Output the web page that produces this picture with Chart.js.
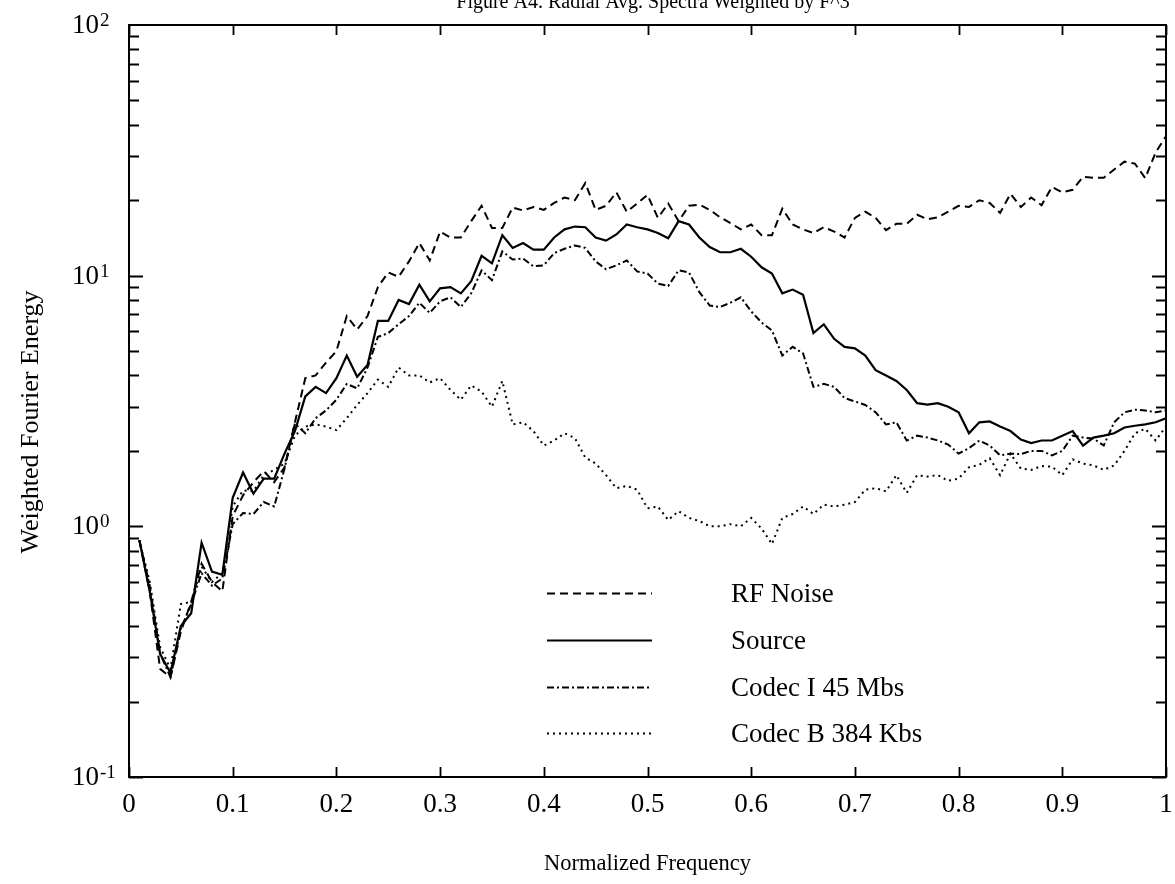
<!DOCTYPE html>
<html>
<head>
<meta charset="utf-8">
<script src="https://cdn.jsdelivr.net/npm/chart.js@4.4.1/dist/chart.umd.min.js"></script>
<style>
html,body{margin:0;padding:0;background:#fff;}
#c{display:block;}
</style>
</head>
<body>
<canvas id="c" width="1175" height="884"></canvas>
<script>
// ---- data ----
const titleText = "Figure A4. Radial Avg. Spectra Weighted by F^3";
const xTitle = "Normalized Frequency";
const yTitle = "Weighted Fourier Energy";
const seriesNames = ["RF Noise", "Source", "Codec I 45 Mbs", "Codec B 384 Kbs"];
const xTickValues = [0,0.1,0.2,0.3,0.4,0.5,0.6,0.7,0.8,0.9,1];
const xTickLabels = ["0","0.1","0.2","0.3","0.4","0.5","0.6","0.7","0.8","0.9","1"];
const yDecades = [-1,0,1,2];

const freq = [0.01,0.02,0.03,0.04,0.05,0.06,0.07,0.08,0.09,0.10,
0.11,0.12,0.13,0.14,0.15,0.16,0.17,0.18,0.19,0.20,
0.21,0.22,0.23,0.24,0.25,0.26,0.27,0.28,0.29,0.30,
0.31,0.32,0.33,0.34,0.35,0.36,0.37,0.38,0.39,0.40,
0.41,0.42,0.43,0.44,0.45,0.46,0.47,0.48,0.49,0.50,
0.51,0.52,0.53,0.54,0.55,0.56,0.57,0.58,0.59,0.60,
0.61,0.62,0.63,0.64,0.65,0.66,0.67,0.68,0.69,0.70,
0.71,0.72,0.73,0.74,0.75,0.76,0.77,0.78,0.79,0.80,
0.81,0.82,0.83,0.84,0.85,0.86,0.87,0.88,0.89,0.90,
0.91,0.92,0.93,0.94,0.95,0.96,0.97,0.98,0.99,1.00];

const rfNoise = [0.88,0.55,0.27,0.25,0.38,0.5,0.71,0.6,0.55,1.1,
1.33,1.5,1.66,1.5,1.72,2.6,3.9,4.0,4.5,5.0,
6.9,6.1,6.9,9.0,10.3,9.9,11.4,13.5,11.5,15.0,
14.2,14.2,16.5,19.0,15.5,15.5,18.7,18.2,18.8,18.3,
19.5,20.5,20.0,23.4,18.3,19.0,21.5,18.0,19.4,21.0,
17.0,19.4,16.5,19.0,19.2,18.3,17.1,16.2,15.3,16.0,
14.5,14.5,18.5,16.0,15.3,14.8,15.6,15.0,14.2,17.0,
18.0,17.0,15.2,16.1,16.1,17.5,16.8,17.1,18.0,19.0,
18.8,20.0,19.5,17.8,21.2,18.8,20.5,19.1,22.6,21.5,
22.0,24.8,24.6,24.6,26.5,28.5,28.0,24.5,31.0,36.0];

const source = [0.88,0.55,0.31,0.26,0.40,0.45,0.86,0.66,0.64,1.3,
1.64,1.35,1.55,1.55,1.95,2.4,3.3,3.6,3.4,3.9,
4.8,3.95,4.4,6.6,6.6,8.0,7.7,9.2,7.9,8.9,
9.0,8.5,9.5,12.0,11.2,14.5,12.9,13.5,12.7,12.7,
14.2,15.3,15.7,15.6,14.2,13.8,14.6,16.0,15.6,15.3,
14.8,14.1,16.5,16.0,14.2,13.0,12.4,12.4,12.8,11.9,
10.8,10.2,8.5,8.8,8.4,5.9,6.4,5.6,5.2,5.13,
4.8,4.2,4.0,3.8,3.5,3.1,3.06,3.1,3.0,2.85,
2.35,2.6,2.62,2.5,2.4,2.22,2.15,2.2,2.2,2.3,
2.4,2.1,2.26,2.3,2.35,2.48,2.52,2.55,2.6,2.7];

const codecI = [0.88,0.58,0.31,0.25,0.39,0.49,0.65,0.58,0.62,1.02,
1.13,1.12,1.25,1.2,1.7,2.57,2.35,2.7,2.9,3.2,
3.7,3.55,4.3,5.7,5.9,6.4,6.9,7.8,7.1,7.9,
8.2,7.5,8.5,10.5,9.6,12.5,11.6,11.7,10.9,11.0,
12.3,12.8,13.2,12.9,11.4,10.6,11.0,11.5,10.4,10.2,
9.3,9.1,10.5,10.3,8.6,7.6,7.5,7.8,8.2,7.2,
6.5,6.05,4.8,5.2,4.9,3.6,3.7,3.6,3.25,3.15,
3.05,2.85,2.55,2.6,2.2,2.3,2.26,2.2,2.12,1.95,
2.05,2.2,2.1,1.92,1.95,1.94,2.0,2.0,1.92,2.0,
2.3,2.26,2.24,2.1,2.6,2.85,2.92,2.9,2.85,2.9];

const codecB = [0.88,0.6,0.33,0.27,0.49,0.5,0.69,0.6,0.65,1.2,
1.39,1.38,1.6,1.68,1.78,2.3,2.5,2.55,2.5,2.42,
2.7,3.05,3.4,3.85,3.6,4.3,4.0,4.0,3.75,3.9,
3.5,3.2,3.65,3.45,3.0,3.8,2.55,2.6,2.4,2.1,
2.2,2.35,2.25,1.88,1.78,1.6,1.42,1.45,1.4,1.18,
1.2,1.06,1.15,1.08,1.05,1.0,1.0,1.02,1.0,1.08,
0.98,0.85,1.08,1.12,1.2,1.12,1.22,1.2,1.22,1.25,
1.4,1.42,1.38,1.6,1.36,1.6,1.58,1.6,1.52,1.55,
1.72,1.76,1.87,1.6,1.95,1.7,1.68,1.74,1.73,1.6,
1.85,1.78,1.75,1.68,1.75,2.0,2.35,2.45,2.2,2.5];

// ---- styles ----
const FONT = '"Liberation Serif", "Times New Roman", serif';
const dashes = [[8,5], [], [7,3,2,3], [2,4]];
const widths = [2, 2.2, 2, 2];
const allSeries = [rfNoise, source, codecI, codecB];

function pts(arr){ return freq.map((f,i)=>({x:f, y:arr[i]})); }

const datasets = allSeries.map((arr,i)=>({
  label: seriesNames[i],
  data: pts(arr),
  borderColor: '#000',
  backgroundColor: '#000',
  borderWidth: widths[i],
  borderDash: dashes[i],
  pointRadius: 0,
  tension: 0,
  fill: false
}));

const framePlugin = {
  id: 'frame',
  afterDraw(chart){
    const ctx = chart.ctx;
    const a = chart.chartArea;
    const xs = chart.scales.x, ys = chart.scales.y;
    ctx.save();
    ctx.setLineDash([]);
    ctx.strokeStyle = '#000';
    ctx.fillStyle = '#000';
    ctx.lineWidth = 2;
    ctx.strokeRect(a.left, a.top, a.right - a.left, a.bottom - a.top);

    // x ticks (inward, top & bottom)
    ctx.lineWidth = 1.8;
    xTickValues.forEach(v=>{
      const px = Math.round(xs.getPixelForValue(v)) + 0.5;
      ctx.beginPath();
      ctx.moveTo(px, a.bottom); ctx.lineTo(px, a.bottom - 10);
      ctx.moveTo(px, a.top); ctx.lineTo(px, a.top + 10);
      ctx.stroke();
    });
    // y ticks (log minor + major)
    for (let d = yDecades[0]; d < yDecades[yDecades.length-1]; d++){
      for (let m = 1; m <= 9; m++){
        const v = m * Math.pow(10, d);
        const py = Math.round(ys.getPixelForValue(v)) + 0.5;
        const len = (m === 1) ? 14 : 10;
        ctx.beginPath();
        ctx.moveTo(a.left, py); ctx.lineTo(a.left + len, py);
        ctx.moveTo(a.right, py); ctx.lineTo(a.right - len, py);
        ctx.stroke();
      }
    }
    // x labels
    ctx.font = '27px ' + FONT;
    ctx.textAlign = 'center';
    ctx.textBaseline = 'alphabetic';
    xTickValues.forEach((v,i)=>{
      ctx.fillText(xTickLabels[i], xs.getPixelForValue(v), a.bottom + 35);
    });
    // y labels 10^n
    yDecades.forEach(d=>{
      const py = ys.getPixelForValue(Math.pow(10,d));
      ctx.textAlign = 'left';
      ctx.font = '27px ' + FONT;
      ctx.fillText('10', 72, py + 8);
      const w = ctx.measureText('10').width;
      ctx.font = '19px ' + FONT;
      ctx.fillText(String(d), 72 + w + 1, py + 1);
    });
    // axis titles
    ctx.textAlign = 'center';
    ctx.font = '22.5px ' + FONT;
    ctx.fillText(xTitle, (a.left + a.right)/2, 870);
    ctx.save();
    ctx.font = '26px ' + FONT;
    ctx.translate(38, 422);
    ctx.rotate(-Math.PI/2);
    ctx.fillText(yTitle, 0, 0);
    ctx.restore();
    // chart title (cut off at top, as in reference)
    ctx.font = '20px ' + FONT;
    ctx.fillText(titleText, 653, 8);

    // legend
    const rowY = [593, 640, 687, 733];
    chart.data.datasets.forEach((ds,i)=>{
      const y = rowY[i] + 0.5;
      ctx.setLineDash(ds.borderDash);
      ctx.lineWidth = ds.borderWidth;
      ctx.beginPath();
      ctx.moveTo(547, y); ctx.lineTo(652, y);
      ctx.stroke();
      ctx.setLineDash([]);
      ctx.font = '27px ' + FONT;
      ctx.textAlign = 'left';
      ctx.fillText(ds.label, 731, rowY[i] + 9);
    });
    ctx.restore();
  }
};

new Chart(document.getElementById('c'), {
  type: 'line',
  data: { datasets },
  options: {
    responsive: false,
    animation: false,
    devicePixelRatio: 1,
    layout: { padding: { left: 129, right: 9, top: 25, bottom: 107 } },
    plugins: { legend: { display: false }, tooltip: { enabled: false }, title: { display: false } },
    scales: {
      x: { type: 'linear', min: 0, max: 1, display: false },
      y: { type: 'logarithmic', min: 0.1, max: 100, display: false }
    }
  },
  plugins: [framePlugin]
});
</script>
</body>
</html>
